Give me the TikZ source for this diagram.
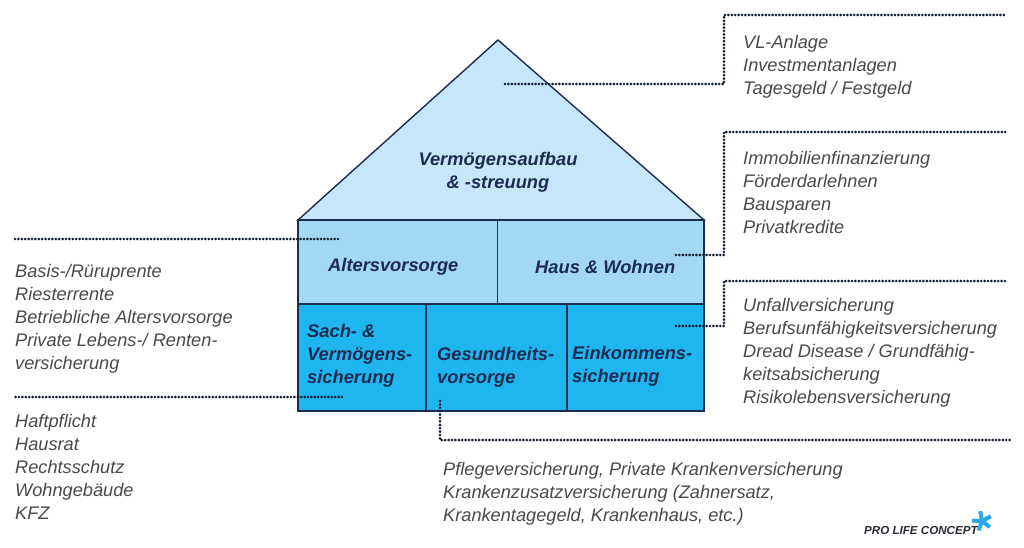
\documentclass[tikz,border=0pt]{standalone}
\usepackage{fontspec}
\setmainfont{Liberation Sans}
\definecolor{roofc}{HTML}{C8E6FA}
\definecolor{midc}{HTML}{A3D8F5}
\definecolor{lowc}{HTML}{1FB5EE}
\definecolor{linec}{HTML}{1D2D50}
\definecolor{txtc}{HTML}{4A4A4C}
\definecolor{headc}{HTML}{1D2B52}
\definecolor{logoc}{HTML}{2A2A33}
\definecolor{starc}{HTML}{2AA9E8}
\tikzset{
 x=1pt,y=-1pt,
 part/.style={draw=linec,line width=1.4pt,line join=miter},
 head/.style={font=\fontsize{18.3}{23}\selectfont\bfseries\itshape,text=headc,inner sep=0pt,align=left},
 list/.style={font=\fontsize{18.2}{23}\selectfont\itshape,text=txtc,inner sep=0pt,anchor=north west,align=left},
 dots/.style={line width=2.9pt,line cap=round,dash pattern=on 0pt off 3.4pt,draw=linec!60!black},
}
\begin{document}
\begin{tikzpicture}
\useasboundingbox (0,0) rectangle (1024,547);
\fill[white] (0,0) rectangle (1024,547);
% house
\filldraw[part,fill=roofc] (298,220) -- (498,40) -- (704,220) -- cycle;
\filldraw[part,fill=midc] (298,220) rectangle (497.5,304);
\filldraw[part,fill=midc] (497.5,220) rectangle (704,304);
\filldraw[part,fill=lowc] (298,304) rectangle (426,411);
\filldraw[part,fill=lowc] (426,304) rectangle (567,411);
\filldraw[part,fill=lowc] (567,304) rectangle (704,411);
% labels in house
\node[head,align=center] (roof) at (498,172) {Vermögensaufbau\\\& -streuung};
\node[head,anchor=west] (alt) at (328,267) {Altersvorsorge};
\node[head,anchor=west] (haus) at (535,267) {Haus \& Wohnen};
\node[head,anchor=west] (sach) at (307,356) {Sach- \&\\Vermögens-\\sicherung};
\node[head,anchor=west] (ges) at (437,367) {Gesundheits-\\vorsorge};
\node[head,anchor=west] (eink) at (572,366) {Einkommens-\\sicherung};
% lists
\node[list] (l1) at (743,35) {VL-Anlage\\Investmentanlagen\\Tagesgeld / Festgeld};
\node[list] (l2) at (743,151) {Immobilienfinanzierung\\Förderdarlehnen\\Bausparen\\Privatkredite};
\node[list] (l3) at (743,298) {Unfallversicherung\\Berufsunfähigkeitsversicherung\\Dread Disease / Grundfähig-\\keitsabsicherung\\Risikolebensversicherung};
\node[list] (l4) at (15,264) {Basis-/Rüruprente\\Riesterrente\\Betriebliche Altersvorsorge\\Private Lebens-/ Renten-\\versicherung};
\node[list] (l5) at (15,414) {Haftpflicht\\Hausrat\\Rechtsschutz\\Wohngebäude\\KFZ};
\node[list] (l6) at (443,462) {Pflegeversicherung, Private Krankenversicherung\\Krankenzusatzversicherung (Zahnersatz,\\Krankentagegeld, Krankenhaus, etc.)};
% connector ends
\coordinate (a1) at (505,84); \coordinate (b1) at (724,84); \coordinate (c1) at (724,15); \coordinate (d1) at (1006,15);
\coordinate (a2) at (676,255); \coordinate (b2) at (724,255); \coordinate (c2) at (724,132); \coordinate (d2) at (1006,132);
\coordinate (a3) at (676,326); \coordinate (b3) at (724,326); \coordinate (c3) at (724,281); \coordinate (d3) at (1006,281);
\coordinate (a4) at (338,239); \coordinate (d4) at (14,239);
\coordinate (a5) at (342,397); \coordinate (d5) at (14,397);
\coordinate (a6) at (440,401); \coordinate (b6) at (440,440); \coordinate (d6) at (1012,440);
\draw[dots] (a1) -- (b1) -- (c1) -- (d1);
\draw[dots] (a2) -- (b2) -- (c2) -- (d2);
\draw[dots] (a3) -- (b3) -- (c3) -- (d3);
\draw[dots] (a4) -- (d4);
\draw[dots] (a5) -- (d5);
\draw[dots] (a6) -- (b6) -- (d6);
% logo
\node[inner sep=0pt,anchor=west,text=logoc,font=\fontsize{11.6}{12}\selectfont\bfseries\itshape] (logo) at (864,530) {PRO LIFE CONCEPT};
\coordinate (star) at (982,521);
\foreach \a in {-100,-28,38,110,182}
  \draw[starc,line width=4pt] (star) -- ++(\a:10);
\end{tikzpicture}
\end{document}
